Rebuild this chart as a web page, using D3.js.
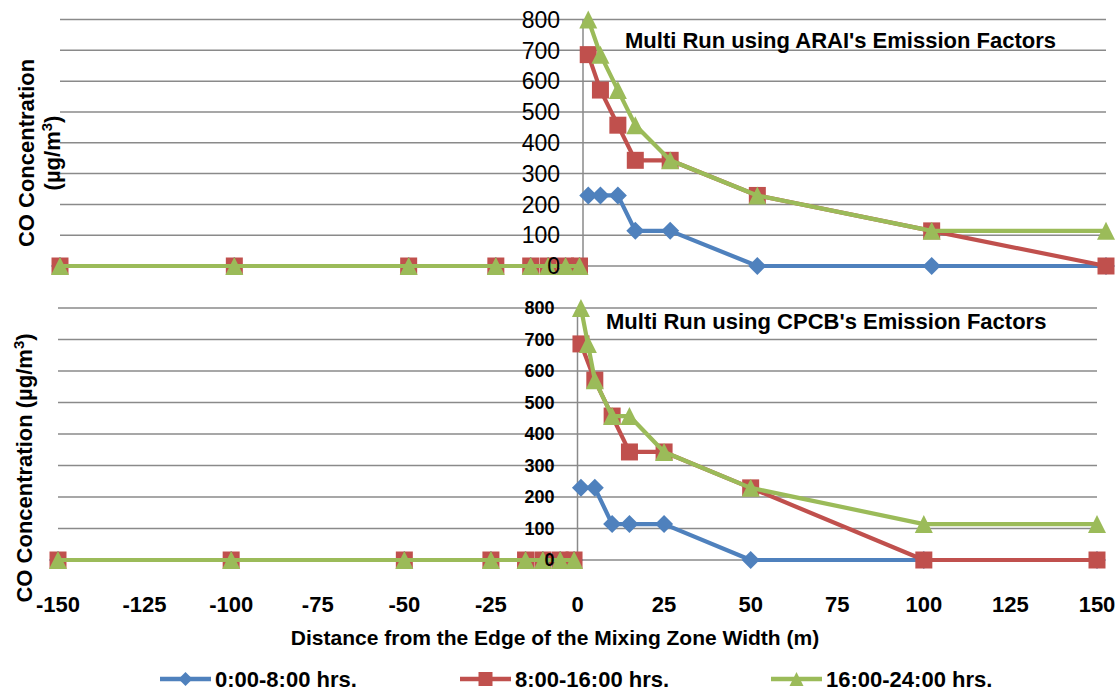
<!DOCTYPE html>
<html>
<head>
<meta charset="utf-8">
<script src="https://cdn.jsdelivr.net/npm/d3@7"></script>
<style>
  body { margin: 0; background: #fff; }
  text { font-family: "Liberation Sans", Arial, sans-serif; fill: #000; }
</style>
</head>
<body>
<div id="chart"></div>
<script>
// =========================
// Data
// =========================
const seriesNames = ["0:00-8:00 hrs.", "8:00-16:00 hrs.", "16:00-24:00 hrs."];
const seriesColors = ["#4f81bd", "#c0504d", "#9bbb59"];
const seriesShapes = ["diamond", "square", "triangle"];

const xTicks = [-150, -125, -100, -75, -50, -25, 0, 25, 50, 75, 100, 125, 150];
const yTicks = [0, 100, 200, 300, 400, 500, 600, 700, 800];

// distances (m) for each run; the 0 entry is a blank cell, so the line breaks there
const distArai = [-150, -100, -50, -25, -15, -10, -5, -1, 0, 1.5, 5, 10, 15, 25, 50, 100, 150];
const distCpcb = [-150, -100, -50, -25, -15, -10, -5, -1, 0, 1, 5, 10, 15, 25, 50, 100, 150];
const distCpcbGreen = [-150, -100, -50, -25, -15, -10, -5, -1, 0, 1, 3, 5, 10, 15, 25, 50, 100, 150];

// ARAI emission factors (top panel)
const araiNight = [0, 0, 0, 0, 0, 0, 0, 0, null, 229, 229, 229, 114, 114, 0, 0, 0];
const araiDay = [0, 0, 0, 0, 0, 0, 0, 0, null, 686, 571, 457, 343, 343, 229, 114, 0];
const araiEvening = [0, 0, 0, 0, 0, 0, 0, 0, null, 800, 686, 571, 457, 343, 229, 114, 114];

// CPCB emission factors (bottom panel)
const cpcbNight = [0, 0, 0, 0, 0, 0, 0, 0, null, 229, 229, 114, 114, 114, 0, 0, 0];
const cpcbDay = [0, 0, 0, 0, 0, 0, 0, 0, null, 686, 571, 457, 343, 343, 229, 0, 0];
const cpcbEvening = [0, 0, 0, 0, 0, 0, 0, 0, null, 800, 686, 571, 457, 457, 343, 229, 114, 114];

const width = 1120;
const height = 691;

const svg = d3.select("#chart")
  .append("svg")
  .attr("width", width)
  .attr("height", height);

// marker path for each shape, centred on 0,0
function markerPath(shape, s) {
    const h = s / 2;
    if (shape === "square") return `M${-h},${-h}H${h}V${h}H${-h}Z`;
    if (shape === "diamond") return `M0,${-h}L${h},0L0,${h}L${-h},0Z`;
    return `M0,${-h}L${h},${h}L${-h},${h}Z`;
}

// draw one panel: gridlines, y axis, series, tick labels
function drawPanel(opts) {
    const x = d3.scaleLinear().domain([-150, 150]).range(opts.xRange);
    const y = d3.scaleLinear().domain([0, 800]).range(opts.yRange);
    const g = svg.append("g");

    // horizontal gridlines (0 line acts as the x axis)
    g.selectAll(".grid")
      .data(yTicks)
      .enter()
      .append("line")
      .attr("x1", x(-150))
      .attr("x2", x(150))
      .attr("y1", d => y(d))
      .attr("y2", d => y(d))
      .attr("stroke", "#8a8a8a")
      .attr("stroke-width", 1.5);

    // vertical axis line at distance 0
    g.append("line")
      .attr("x1", x(0))
      .attr("x2", x(0))
      .attr("y1", y(800))
      .attr("y2", y(0))
      .attr("stroke", "#8a8a8a")
      .attr("stroke-width", 1.5);

    const line = d3.line()
      .defined(d => d[1] !== null)
      .x(d => x(d[0]))
      .y(d => y(d[1]));

    opts.series.forEach((s, i) => {
        const pts = s.dist.map((d, j) => [d, s.values[j]]);
        g.append("path")
          .datum(pts)
          .attr("fill", "none")
          .attr("stroke", seriesColors[i])
          .attr("stroke-width", 4.2)
          .attr("stroke-linejoin", "round")
          .attr("d", line);

        g.selectAll(".m" + i)
          .data(pts.filter(d => d[1] !== null))
          .enter()
          .append("path")
          .attr("transform", d => `translate(${x(d[0])},${y(d[1])})`)
          .attr("d", markerPath(seriesShapes[i], seriesShapes[i] === "square" ? 17 : 18))
          .attr("fill", seriesColors[i]);
    });

    // y tick labels, drawn over the markers like the original
    g.selectAll(".ytick")
      .data(yTicks)
      .enter()
      .append("text")
      .attr("x", x(0) - 23)
      .attr("y", d => y(d))
      .attr("dy", "0.36em")
      .attr("text-anchor", "end")
      .style("font-size", opts.yTickSize + "px")
      .style("font-weight", opts.yTickWeight)
      .text(d => d);

    // panel title
    g.append("text")
      .attr("x", opts.titleX)
      .attr("y", opts.titleY)
      .style("font-size", "22px")
      .style("font-weight", "bold")
      .text(opts.title);

    return x;
}

// =========================
// Top panel: ARAI
// =========================
drawPanel({
    xRange: [60, 1106],
    yRange: [266, 19.5],
    yTickSize: 23,
    yTickWeight: "normal",
    title: "Multi Run using ARAI's Emission Factors",
    titleX: 625,
    titleY: 48,
    series: [
        {dist: distArai, values: araiNight},
        {dist: distArai, values: araiDay},
        {dist: distArai, values: araiEvening}
    ]
});

// top y axis title (two lines)
const topTitle = svg.append("text")
  .attr("transform", "translate(34,153) rotate(-90)")
  .attr("text-anchor", "middle")
  .style("font-size", "22px")
  .style("font-weight", "bold");
topTitle.append("tspan").attr("x", 0).attr("y", 0).text("CO Concentration");
const unitTop = topTitle.append("tspan").attr("x", 0).attr("y", 26);
unitTop.append("tspan").text("(µg/m");
unitTop.append("tspan").attr("dy", -8).style("font-size", "15px").text("3");
unitTop.append("tspan").attr("dy", 8).text(")");

// =========================
// Bottom panel: CPCB
// =========================
const xBottom = drawPanel({
    xRange: [58, 1097],
    yRange: [560, 308],
    yTickSize: 18,
    yTickWeight: "bold",
    title: "Multi Run using CPCB's Emission Factors",
    titleX: 606,
    titleY: 329,
    series: [
        {dist: distCpcb, values: cpcbNight},
        {dist: distCpcb, values: cpcbDay},
        {dist: distCpcbGreen, values: cpcbEvening}
    ]
});

// x tick labels under the bottom panel
svg.selectAll(".xtick")
  .data(xTicks)
  .enter()
  .append("text")
  .attr("x", d => xBottom(d))
  .attr("y", 612)
  .attr("text-anchor", "middle")
  .style("font-size", "22px")
  .style("font-weight", "bold")
  .text(d => d);

// bottom y axis title
const botTitle = svg.append("text")
  .attr("transform", "translate(32,468) rotate(-90)")
  .attr("text-anchor", "middle")
  .style("font-size", "22px")
  .style("font-weight", "bold");
botTitle.append("tspan").text("CO Concentration (µg/m");
botTitle.append("tspan").attr("dy", -8).style("font-size", "15px").text("3");
botTitle.append("tspan").attr("dy", 8).text(")");

// x axis title
svg.append("text")
  .attr("x", 555)
  .attr("y", 645)
  .attr("text-anchor", "middle")
  .style("font-size", "21px")
  .style("font-weight", "bold")
  .text("Distance from the Edge of the Mixing Zone Width (m)");

// =========================
// Legend
// =========================
const legendX = [160, 460, 771];
seriesNames.forEach((name, i) => {
    const lg = svg.append("g")
      .attr("transform", `translate(${legendX[i]},679)`);
    lg.append("line")
      .attr("x1", 0)
      .attr("x2", 51)
      .attr("y1", 0)
      .attr("y2", 0)
      .attr("stroke", seriesColors[i])
      .attr("stroke-width", 4.5);
    lg.append("path")
      .attr("transform", "translate(25.5,0)")
      .attr("d", markerPath(seriesShapes[i], 14))
      .attr("fill", seriesColors[i]);
    lg.append("text")
      .attr("x", 55)
      .attr("y", 0)
      .attr("dy", "0.36em")
      .style("font-size", "22px")
      .style("font-weight", "bold")
      .text(name);
});
</script>
</body>
</html>
